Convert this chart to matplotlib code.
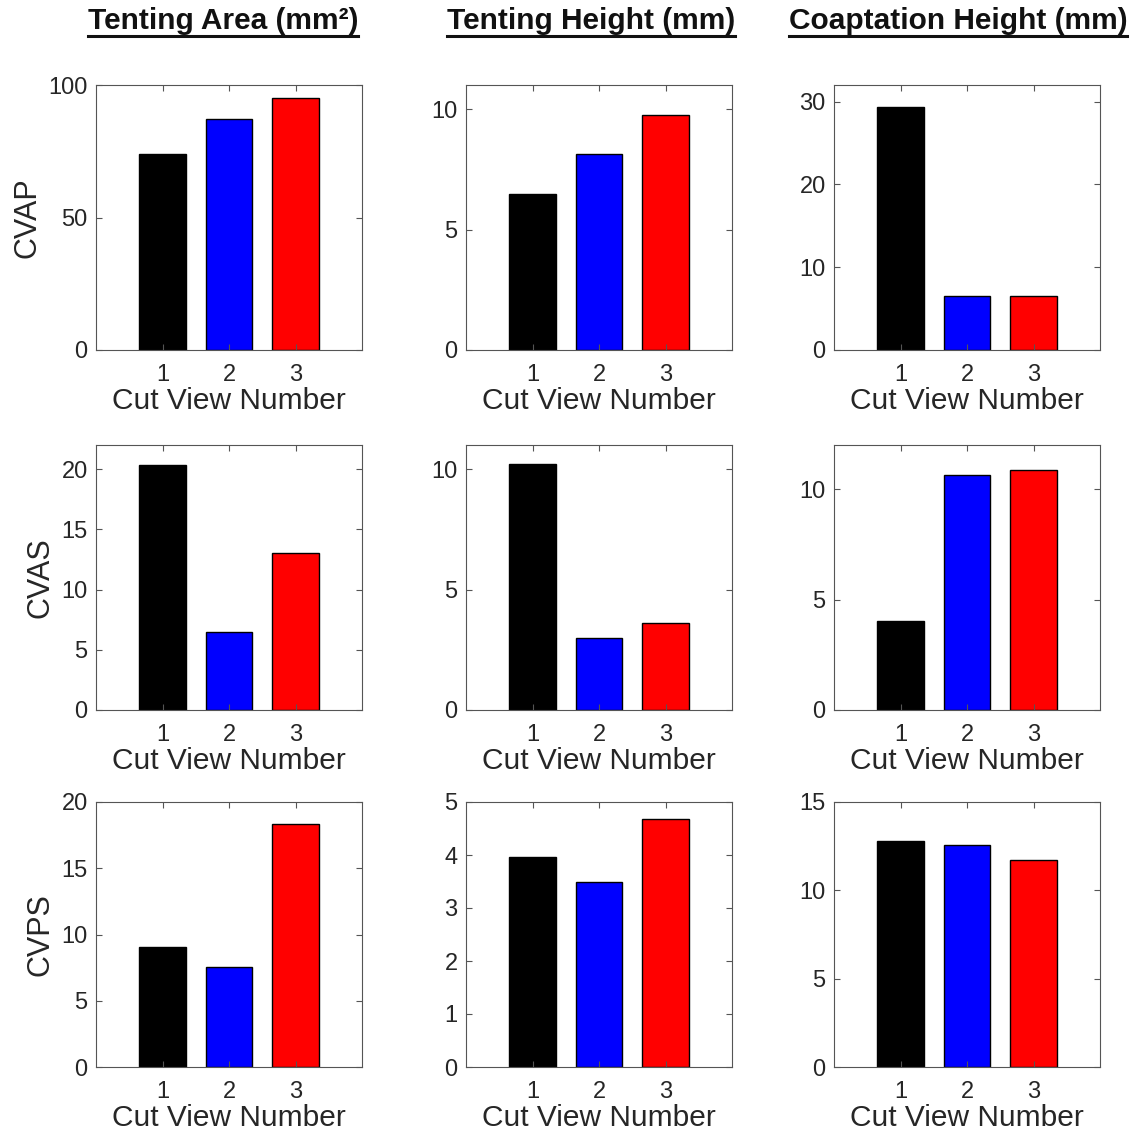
import matplotlib
matplotlib.use("Agg")
import matplotlib.pyplot as plt
from matplotlib.lines import Line2D

plt.rcParams['font.family'] = ['Liberation Sans', 'DejaVu Sans']

# data
cut_views = [1, 2, 3]
bar_colors = ["#000000", "#0000ff", "#ff0000"]
col_titles = ["Tenting Area (mm²)", "Tenting Height (mm)", "Coaptation Height (mm)"]
row_labels = ["CVAP", "CVAS", "CVPS"]

# rows = CVAP, CVAS, CVPS ; columns = area, height, coaptation
cvap_area = [74.0, 87.2, 95.1]
cvap_height = [6.49, 8.14, 9.75]
cvap_coapt = [29.3, 6.5, 6.5]

cvas_area = [20.3, 6.45, 13.05]
cvas_height = [10.2, 3.0, 3.62]
cvas_coapt = [4.05, 10.63, 10.86]

cvps_area = [9.05, 7.55, 18.35]
cvps_height = [3.96, 3.49, 4.68]
cvps_coapt = [12.79, 12.56, 11.71]

values = [[cvap_area, cvap_height, cvap_coapt],
          [cvas_area, cvas_height, cvas_coapt],
          [cvps_area, cvps_height, cvps_coapt]]

ylims = [[100, 11, 32],
         [22, 11, 12],
         [20, 5, 15]]
yticks = [[[0, 50, 100], [0, 5, 10], [0, 10, 20, 30]],
          [[0, 5, 10, 15, 20], [0, 5, 10], [0, 5, 10]],
          [[0, 5, 10, 15, 20], [0, 1, 2, 3, 4, 5], [0, 5, 10, 15]]]

W, H = 1145, 1139
fig = plt.figure(figsize=(W / 100, H / 100), dpi=100)

lefts = [96, 466, 834]
bottoms = [350, 710, 1067]
aw, ah = 266, 265
txt_col = "#262626"

for r in range(3):
    for c in range(3):
        ax = fig.add_axes([lefts[c] / W, 1 - bottoms[r] / H, aw / W, ah / H])
        ax.bar(cut_views, values[r][c], width=0.7, color=bar_colors,
               edgecolor="black", linewidth=1.0)
        ax.set_xlim(0, 4)
        ax.set_ylim(0, ylims[r][c])
        ax.set_xticks(cut_views)
        ax.set_yticks(yticks[r][c])
        ax.tick_params(direction="in", top=True, right=True, length=4,
                       width=0.8, color="#555555", labelsize=17,
                       labelcolor=txt_col)
        ax.tick_params(axis="x", pad=10)
        ax.tick_params(axis="y", pad=6)
        for s in ax.spines.values():
            s.set_color("#555555")
            s.set_linewidth(0.8)
        ax.set_xlabel("Cut View Number", fontsize=21.5, color=txt_col, labelpad=1)
        if c == 0:
            ax.set_ylabel(row_labels[r], fontsize=22, color=txt_col, labelpad=4)

# column titles, bold and underlined
title_x = [223, 591, 958]
titles = []
for c in range(3):
    t = fig.text(title_x[c] / W, 1 - 21 / H, col_titles[c], fontsize=21.5,
                 fontweight="bold", color="#111111", ha="center", va="center")
    titles.append(t)

fig.canvas.draw()
renderer = fig.canvas.get_renderer()
for t in titles:
    bb = t.get_window_extent(renderer=renderer)
    y = (bb.y0 - 1) / H
    fig.add_artist(Line2D([bb.x0 / W, bb.x1 / W], [y, y], color="#111111",
                          linewidth=2.2, transform=fig.transFigure))

fig.savefig("out.png", dpi=100)
